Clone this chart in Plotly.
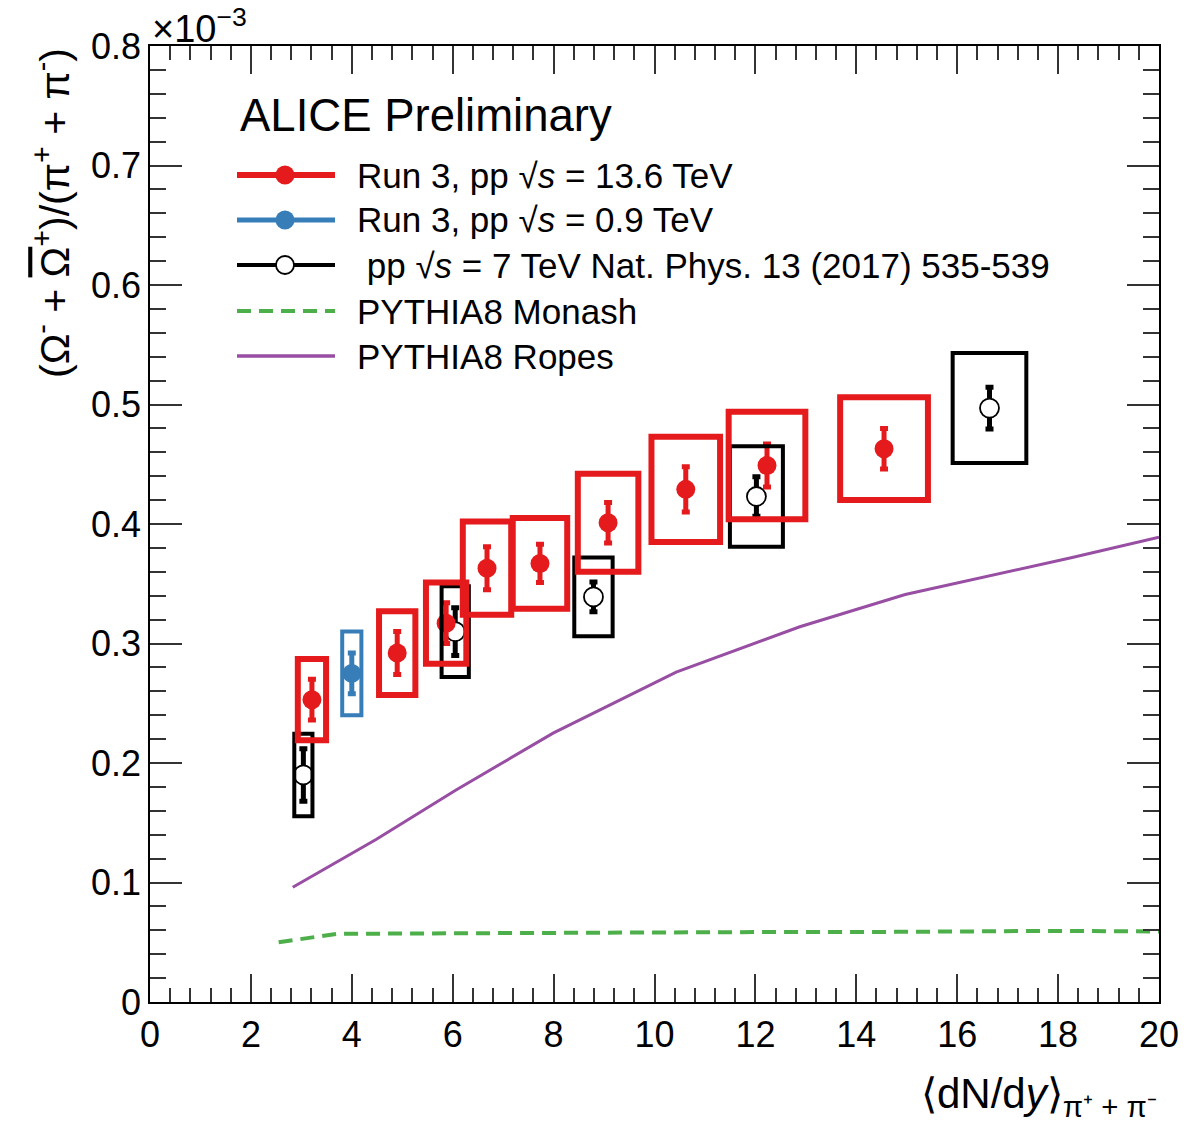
import plotly.graph_objects as go

# ---------------- data (ratio in units of 1e-3) ----------------
red_x = [3.21, 4.90, 5.87, 6.68, 7.73, 9.08, 10.62, 12.23, 14.55]
red_y = [0.253, 0.292, 0.317, 0.363, 0.367, 0.401, 0.429, 0.449, 0.463]
red_stat = [0.017, 0.018, 0.017, 0.018, 0.016, 0.017, 0.019, 0.018, 0.017]
red_sys = [0.034, 0.035, 0.034, 0.039, 0.038, 0.041, 0.044, 0.045, 0.043]
red_xw = [0.28, 0.36, 0.40, 0.48, 0.54, 0.60, 0.68, 0.76, 0.87]

blue_x = [4.0]
blue_y = [0.275]
blue_stat = [0.017]
blue_sys = [0.035]
blue_xw = [0.19]

black_x = [3.04, 6.05, 8.79, 12.02, 16.64]
black_y = [0.190, 0.310, 0.339, 0.423, 0.497]
black_stat = [0.022, 0.020, 0.0125, 0.0165, 0.0175]
black_sys = [0.0345, 0.038, 0.033, 0.042, 0.046]
black_xw = [0.18, 0.27, 0.38, 0.525, 0.73]

ropes_x = [2.83, 4.48, 6.05, 7.99, 10.43, 12.88, 14.97, 18.28, 20.0]
ropes_y = [0.096, 0.136, 0.177, 0.225, 0.276, 0.314, 0.341, 0.372, 0.389]

monash_x = [2.55, 3.7, 6.0, 8.0, 10.0, 12.0, 14.0, 16.0, 17.9, 20.0]
monash_y = [0.050, 0.057, 0.0575, 0.058, 0.0583, 0.0585, 0.0585, 0.059, 0.0595, 0.059]

y_ticks = [0, 0.1, 0.2, 0.3, 0.4, 0.5, 0.6, 0.7, 0.8]
y_ticktext = ["0", "0.1", "0.2", "0.3", "0.4", "0.5", "0.6", "0.7", "0.8"]
x_ticks = [0, 2, 4, 6, 8, 10, 12, 14, 16, 18, 20]

legend_labels = [
    "Run 3, pp √<i>s</i> = 13.6 TeV",
    "Run 3, pp √<i>s</i> = 0.9 TeV",
    " pp √<i>s</i> = 7 TeV Nat. Phys. 13 (2017) 535-539",
    "PYTHIA8 Monash",
    "PYTHIA8 Ropes",
]

RED = "#e41a1c"
BLUE = "#377eb8"
BLACK = "#000000"
GREEN = "#4daf4a"
PURPLE = "#984ea3"
FONT = "Liberation Sans, Arial, sans-serif"

fig = go.Figure()

# model curves
fig.add_trace(go.Scatter(x=monash_x, y=monash_y, mode="lines",
                         line=dict(color=GREEN, width=4, dash="14px,8px"),
                         showlegend=False, hoverinfo="skip"))
fig.add_trace(go.Scatter(x=ropes_x, y=ropes_y, mode="lines",
                         line=dict(color=PURPLE, width=3),
                         showlegend=False, hoverinfo="skip"))

shapes = []


def add_boxes(xs, ys, xw, sys, color, lw):
    for x, y, w, s in zip(xs, ys, xw, sys):
        shapes.append(dict(type="rect", xref="x", yref="y",
                           x0=x - w, x1=x + w, y0=y - s, y1=y + s,
                           line=dict(color=color, width=lw),
                           fillcolor="rgba(0,0,0,0)", layer="above"))


add_boxes(black_x, black_y, black_xw, black_sys, BLACK, 4)
add_boxes(red_x, red_y, red_xw, red_sys, RED, 6)
add_boxes(blue_x, blue_y, blue_xw, blue_sys, BLUE, 4)

# data points with stat errors
fig.add_trace(go.Scatter(x=black_x, y=black_y, mode="markers",
                         marker=dict(symbol="circle", size=19, color="white",
                                     line=dict(color=BLACK, width=1.8)),
                         error_y=dict(type="data", array=black_stat, color=BLACK,
                                      thickness=5, width=4),
                         showlegend=False))
fig.add_trace(go.Scatter(x=red_x, y=red_y, mode="markers",
                         marker=dict(symbol="circle", size=19, color=RED),
                         error_y=dict(type="data", array=red_stat, color=RED,
                                      thickness=5, width=4),
                         showlegend=False))
fig.add_trace(go.Scatter(x=blue_x, y=blue_y, mode="markers",
                         marker=dict(symbol="circle", size=19, color=BLUE),
                         error_y=dict(type="data", array=blue_stat, color=BLUE,
                                      thickness=5, width=4),
                         showlegend=False))

# ---------------- manual legend ----------------
PLOT_L, PLOT_R, PLOT_T, PLOT_B = 150, 1159, 46, 1002


def px(xp):
    return (xp - PLOT_L) / (PLOT_R - PLOT_L)


def py(yp):
    return (PLOT_B - yp) / (PLOT_B - PLOT_T)


rows = [175, 220, 265, 311, 356]
styles = [
    dict(color=RED, width=6, dash="solid", marker="fill"),
    dict(color=BLUE, width=5, dash="solid", marker="fill"),
    dict(color=BLACK, width=4, dash="solid", marker="open"),
    dict(color=GREEN, width=4, dash="14px,8px", marker=None),
    dict(color=PURPLE, width=3.5, dash="solid", marker=None),
]
annotations = []
for row, st, lab in zip(rows, styles, legend_labels):
    yy = py(row)
    shapes.append(dict(type="line", xref="paper", yref="paper",
                       x0=px(237), x1=px(335), y0=yy, y1=yy,
                       line=dict(color=st["color"], width=st["width"],
                                 dash=st["dash"])))
    if st["marker"] == "fill":
        shapes.append(dict(type="circle", xref="paper", yref="paper",
                           xsizemode="pixel", ysizemode="pixel",
                           xanchor=px(285), yanchor=yy,
                           x0=-9.5, x1=9.5, y0=-9.5, y1=9.5,
                           fillcolor=st["color"], line=dict(width=0)))
    elif st["marker"] == "open":
        shapes.append(dict(type="circle", xref="paper", yref="paper",
                           xsizemode="pixel", ysizemode="pixel",
                           xanchor=px(285), yanchor=yy,
                           x0=-9, x1=9, y0=-9, y1=9,
                           fillcolor="white", line=dict(color=BLACK, width=1.8)))
    annotations.append(dict(xref="paper", yref="paper", x=px(355), y=yy,
                            xanchor="left", yanchor="middle", showarrow=False,
                            text=lab, font=dict(family=FONT, size=35, color="black")))

annotations.append(dict(xref="paper", yref="paper", x=px(238), y=py(115),
                        xanchor="left", yanchor="middle", showarrow=False,
                        text="ALICE Preliminary",
                        font=dict(family=FONT, size=45.5, color="black")))

annotations.append(dict(xref="paper", yref="paper", x=0.0, y=1.0,
                        xanchor="left", yanchor="bottom", showarrow=False,
                        yshift=-6,
                        text="×10<sup>−3</sup>",
                        font=dict(family=FONT, size=38, color="black")))

annotations.append(dict(xref="paper", yref="paper", x=px(52), y=1.0,
                        xanchor="center", yanchor="top", showarrow=False,
                        textangle=-90,
                        text="(Ω<sup>-</sup> + <span style=\"text-decoration:overline\">Ω</span><sup>+</sup>)/(π<sup>+</sup> + π<sup>-</sup>)",
                        font=dict(family=FONT, size=41, color="black")))

annotations.append(dict(xref="paper", yref="paper", x=1.0, y=py(1096),
                        xanchor="right", yanchor="middle", showarrow=False,
                        text="⟨dN/d<i>y</i>⟩<sub>π⁺ + π⁻</sub>",
                        font=dict(family=FONT, size=42, color="black")))

axis_common = dict(showline=True, linecolor="black", linewidth=1.5, mirror="allticks",
                   ticks="inside", tickcolor="#333333", tickwidth=1.5,
                   showgrid=False, zeroline=False,
                   tickfont=dict(family=FONT, size=36, color="black"))

fig.update_layout(
    width=1193, height=1125,
    margin=dict(l=PLOT_L, r=1193 - PLOT_R, t=PLOT_T, b=1125 - PLOT_B),
    plot_bgcolor="white", paper_bgcolor="white",
    shapes=shapes, annotations=annotations, showlegend=False,
    xaxis=dict(range=[0, 20], tickvals=x_ticks, ticklen=28,
               minor=dict(dtick=0.4, ticklen=14, tickcolor="#333333", tickwidth=1.5,
                          ticks="inside", showgrid=False),
               **axis_common),
    yaxis=dict(range=[0, 0.8], tickvals=y_ticks, ticktext=y_ticktext, ticklen=32,
               minor=dict(dtick=0.02, ticklen=16, tickcolor="#333333", tickwidth=1.5,
                          ticks="inside", showgrid=False),
               **axis_common),
)

fig.write_html("out.html")
